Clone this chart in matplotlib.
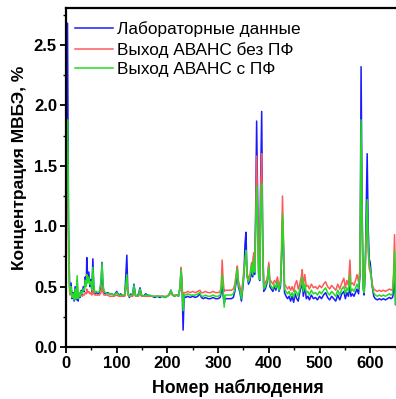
import matplotlib
matplotlib.use("Agg")
import matplotlib.pyplot as plt
from matplotlib.ticker import MultipleLocator

# номера наблюдений (общие для трёх рядов)
nomer = [0, 3, 4, 5, 6, 7, 8, 10, 12, 14, 16, 18, 20, 22, 24, 26, 28, 30,
         32, 34, 36, 38, 40, 41, 43, 45, 47, 49, 51, 53, 55, 57, 60, 63, 66, 69, 71, 73, 75, 78,
         82, 86, 90, 95, 100, 104, 108, 112, 116, 120, 122, 125, 128, 131, 134, 137, 140, 143, 146, 149,
         153, 157, 161, 165, 170, 175, 180, 185, 190, 195, 200, 204, 207, 210, 214, 218, 222, 225, 227, 229,
         231, 233, 236, 240, 245, 250, 255, 260, 264, 267, 271, 275, 280, 285, 290, 295, 300, 304, 306, 308,
         310, 312, 314, 318, 322, 326, 330, 333, 336, 338, 340, 343, 346, 349, 351, 353, 355, 357, 360, 363,
         366, 368, 370, 372, 374, 376, 378, 380, 382, 384, 386, 388, 390, 393, 396, 398, 400, 402, 405, 408,
         411, 414, 417, 420, 423, 425, 427, 429, 431, 434, 437, 440, 443, 446, 449, 452, 455, 458, 461, 464,
         466, 468, 471, 474, 477, 480, 484, 488, 492, 496, 500, 504, 508, 512, 516, 520, 524, 528, 532, 536,
         540, 544, 548, 551, 554, 557, 560, 562, 565, 568, 571, 574, 577, 580, 582, 584, 586, 588, 590, 592,
         594, 596, 598, 600, 602, 604, 607, 610, 614, 618, 622, 626, 630, 634, 638, 641, 644, 646, 648, 650,
         652]

# лабораторные данные
lab = [1.00, 2.68, 1.90, 1.00, 0.75, 0.52, 0.44, 0.53, 0.40, 0.45, 0.38, 0.50, 0.39, 0.55, 0.38, 0.44, 0.41, 0.47,
       0.43, 0.50, 0.46, 0.58, 0.52, 0.74, 0.55, 0.62, 0.50, 0.56, 0.46, 0.73, 0.48, 0.44, 0.45, 0.44, 0.45, 0.52, 0.70, 0.50, 0.45, 0.44,
       0.45, 0.44, 0.44, 0.43, 0.46, 0.43, 0.44, 0.42, 0.43, 0.76, 0.45, 0.41, 0.44, 0.42, 0.52, 0.43, 0.42, 0.44, 0.49, 0.43,
       0.42, 0.44, 0.43, 0.42, 0.42, 0.41, 0.42, 0.41, 0.42, 0.41, 0.42, 0.44, 0.47, 0.43, 0.42, 0.43, 0.42, 0.50, 0.65, 0.50,
       0.14, 0.42, 0.41, 0.42, 0.41, 0.42, 0.41, 0.42, 0.44, 0.41, 0.40, 0.41, 0.40, 0.40, 0.41, 0.40, 0.40, 0.41, 0.45, 0.55,
       0.42, 0.36, 0.40, 0.40, 0.40, 0.40, 0.41, 0.46, 0.55, 0.62, 0.50, 0.45, 0.38, 0.50, 0.60, 0.85, 0.95, 0.60, 0.52, 0.55,
       0.65, 0.58, 0.75, 0.60, 1.10, 1.87, 1.20, 0.60, 0.55, 1.40, 1.95, 0.90, 0.46, 0.48, 0.52, 0.58, 0.68, 0.50, 0.48, 0.46,
       0.50, 0.47, 0.55, 0.46, 0.50, 0.70, 1.05, 0.80, 0.45, 0.42, 0.40, 0.42, 0.38, 0.42, 0.37, 0.44, 0.40, 0.38, 0.45, 0.50,
       0.55, 0.42, 0.50, 0.40, 0.42, 0.39, 0.43, 0.40, 0.41, 0.39, 0.42, 0.40, 0.43, 0.45, 0.41, 0.39, 0.42, 0.40, 0.38, 0.43,
       0.39, 0.44, 0.46, 0.40, 0.45, 0.42, 0.50, 0.42, 0.44, 0.42, 0.45, 0.48, 0.44, 0.60, 2.32, 1.20, 0.50, 0.43, 0.60, 1.10,
       1.60, 1.00, 0.73, 0.70, 0.60, 0.50, 0.42, 0.40, 0.39, 0.40, 0.39, 0.40, 0.39, 0.40, 0.41, 0.40, 0.41, 0.45, 0.70, 0.35,
       0.40]

# выход АВАНС без ПФ
bez_pf = [0.90, 1.50, 1.30, 0.80, 0.60, 0.46, 0.43, 0.44, 0.42, 0.42, 0.41, 0.43, 0.41, 0.44, 0.41, 0.42, 0.42, 0.43,
          0.42, 0.43, 0.43, 0.45, 0.44, 0.48, 0.45, 0.46, 0.44, 0.45, 0.43, 0.48, 0.44, 0.43, 0.43, 0.43, 0.43, 0.45, 0.50, 0.45, 0.43, 0.43,
          0.43, 0.42, 0.42, 0.42, 0.43, 0.42, 0.42, 0.42, 0.42, 0.55, 0.43, 0.42, 0.42, 0.42, 0.45, 0.42, 0.42, 0.42, 0.44, 0.42,
          0.42, 0.42, 0.42, 0.42, 0.42, 0.42, 0.42, 0.42, 0.42, 0.42, 0.42, 0.43, 0.45, 0.43, 0.43, 0.43, 0.43, 0.47, 0.66, 0.50,
          0.40, 0.45, 0.45, 0.46, 0.45, 0.46, 0.45, 0.46, 0.47, 0.45, 0.45, 0.46, 0.45, 0.45, 0.46, 0.45, 0.45, 0.46, 0.50, 0.72,
          0.55, 0.46, 0.47, 0.47, 0.47, 0.47, 0.48, 0.52, 0.62, 0.67, 0.55, 0.50, 0.45, 0.55, 0.65, 0.72, 0.78, 0.62, 0.56, 0.60,
          0.70, 0.65, 0.78, 0.66, 1.00, 1.58, 1.10, 0.62, 0.58, 1.30, 1.60, 0.85, 0.52, 0.53, 0.56, 0.60, 0.70, 0.56, 0.54, 0.52,
          0.55, 0.53, 0.58, 0.50, 0.55, 0.80, 1.25, 0.90, 0.52, 0.50, 0.48, 0.50, 0.47, 0.50, 0.46, 0.52, 0.55, 0.48, 0.52, 0.58,
          0.64, 0.50, 0.60, 0.50, 0.51, 0.48, 0.52, 0.49, 0.50, 0.48, 0.51, 0.49, 0.52, 0.54, 0.50, 0.48, 0.51, 0.49, 0.47, 0.52,
          0.48, 0.53, 0.57, 0.49, 0.55, 0.51, 0.72, 0.52, 0.53, 0.51, 0.55, 0.60, 0.54, 0.65, 1.65, 1.10, 0.52, 0.47, 0.65, 0.90,
          1.10, 0.80, 0.65, 0.62, 0.58, 0.52, 0.48, 0.47, 0.46, 0.47, 0.46, 0.47, 0.46, 0.47, 0.48, 0.47, 0.48, 0.60, 0.93, 0.50,
          0.45]

# выход АВАНС с ПФ
s_pf = [0.95, 1.88, 1.60, 1.00, 0.75, 0.50, 0.45, 0.50, 0.41, 0.44, 0.39, 0.48, 0.40, 0.59, 0.40, 0.45, 0.42, 0.46,
        0.44, 0.48, 0.47, 0.55, 0.50, 0.60, 0.53, 0.58, 0.52, 0.54, 0.47, 0.66, 0.50, 0.45, 0.46, 0.45, 0.46, 0.55, 0.69, 0.52, 0.46, 0.45,
        0.44, 0.44, 0.44, 0.43, 0.45, 0.43, 0.43, 0.43, 0.43, 0.60, 0.45, 0.42, 0.43, 0.43, 0.51, 0.43, 0.42, 0.43, 0.48, 0.43,
        0.42, 0.43, 0.43, 0.43, 0.42, 0.42, 0.42, 0.42, 0.42, 0.41, 0.42, 0.44, 0.47, 0.43, 0.42, 0.43, 0.42, 0.50, 0.64, 0.48,
        0.30, 0.43, 0.43, 0.44, 0.43, 0.43, 0.43, 0.44, 0.45, 0.42, 0.42, 0.43, 0.42, 0.42, 0.43, 0.42, 0.42, 0.43, 0.48, 0.60,
        0.48, 0.33, 0.43, 0.43, 0.43, 0.43, 0.44, 0.48, 0.58, 0.65, 0.52, 0.47, 0.40, 0.52, 0.62, 0.70, 0.80, 0.58, 0.54, 0.58,
        0.68, 0.60, 0.72, 0.62, 0.90, 1.33, 1.00, 0.58, 0.56, 1.15, 1.35, 0.80, 0.48, 0.50, 0.54, 0.57, 0.66, 0.52, 0.50, 0.48,
        0.52, 0.49, 0.54, 0.47, 0.52, 0.72, 1.10, 0.85, 0.48, 0.46, 0.44, 0.46, 0.42, 0.45, 0.41, 0.47, 0.45, 0.42, 0.48, 0.52,
        0.58, 0.46, 0.52, 0.45, 0.46, 0.43, 0.47, 0.44, 0.45, 0.43, 0.46, 0.44, 0.47, 0.49, 0.45, 0.43, 0.46, 0.44, 0.42, 0.47,
        0.43, 0.48, 0.50, 0.44, 0.49, 0.46, 0.60, 0.46, 0.48, 0.46, 0.49, 0.52, 0.48, 0.62, 1.88, 1.00, 0.48, 0.45, 0.62, 0.90,
        1.22, 0.85, 0.68, 0.65, 0.58, 0.50, 0.45, 0.43, 0.42, 0.43, 0.42, 0.43, 0.42, 0.43, 0.44, 0.43, 0.44, 0.55, 0.80, 0.35,
        0.38]

plt.rcParams['font.family'] = ['Liberation Sans', 'DejaVu Sans']

fig = plt.figure(figsize=(3.96, 3.99), dpi=100)
ax_w = 680 * 0.507  # ширина осей в пикселях (правый край за кадром)
ax = fig.add_axes([66/396, 52/399, ax_w/396, 339/399])

ax.plot(nomer, lab, color='#1a1aff', lw=1.1, label='Лабораторные данные')
ax.plot(nomer, bez_pf, color='#ff5a5a', lw=1.1, label='Выход АВАНС без ПФ')
ax.plot(nomer, s_pf, color='#22dd22', lw=1.1, label='Выход АВАНС с ПФ')

ax.set_xlim(0, 680)
ax.set_ylim(0, 2.806)
ax.xaxis.set_major_locator(MultipleLocator(100))
ax.xaxis.set_minor_locator(MultipleLocator(50))
ax.yaxis.set_major_locator(MultipleLocator(0.5))
ax.yaxis.set_minor_locator(MultipleLocator(0.25))
ax.tick_params(which='major', direction='out', length=4, width=1.3, labelsize=12, pad=2.5)
ax.tick_params(which='minor', direction='out', length=2.5, width=1.0)
for lbl in ax.get_xticklabels() + ax.get_yticklabels():
    lbl.set_fontweight('bold')
for sp in ax.spines.values():
    sp.set_linewidth(1.6)

ax.set_xlabel('Номер наблюдения', fontsize=12.7, fontweight='bold')
ax.xaxis.set_label_coords((237.5 - 66) / ax_w, -32/339)
ax.set_ylabel('Концентрация МВБЭ, %', fontsize=12.5, fontweight='bold')
ax.yaxis.set_label_coords((27 - 66) / ax_w, (347 - 168) / 339)

ax.legend(loc='upper left', bbox_to_anchor=(-0.008, 0.997), frameon=False, fontsize=12.4,
          handlelength=2.2, handletextpad=0.25, labelspacing=0.28, borderaxespad=0.3)

fig.savefig('out.png', dpi=100)
